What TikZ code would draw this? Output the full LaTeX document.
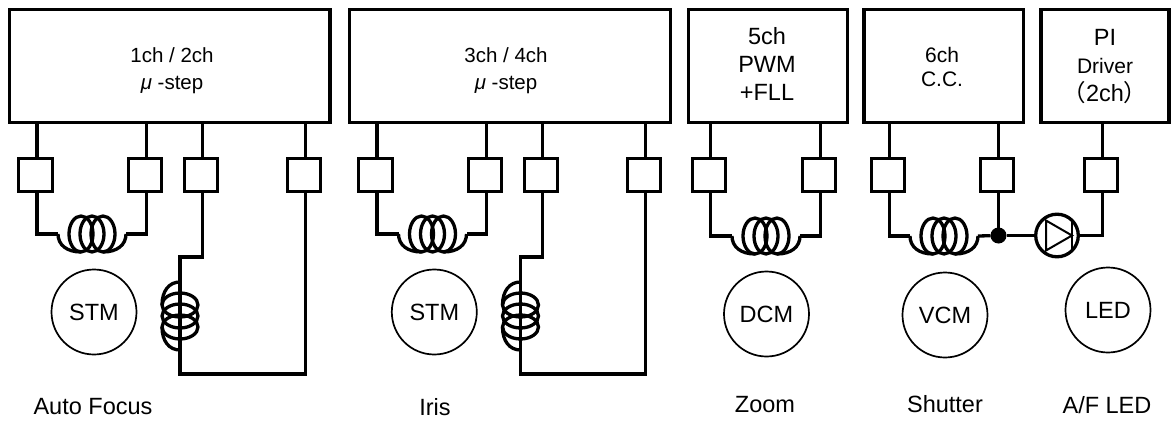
\documentclass[tikz,border=0pt]{standalone}
\usepackage{fontspec}
\setmainfont{Liberation Sans}
\newfontfamily\cjkfont{Noto Sans CJK JP}
\usetikzlibrary{shapes,fit}

\newcommand{\bigsize}{\fontsize{23.5}{28}\selectfont}
\newcommand{\midsize}{\fontsize{20.5}{27}\selectfont}
\newcommand{\ccsize}{\fontsize{21}{24}\selectfont}

\begin{document}
\begin{tikzpicture}[x=1pt,y=-1pt]
\tikzstyle{every path}=[line width=3.3pt]
\tikzstyle{every node}=[inner sep=0pt,outer sep=0pt]

\edef\sizepad{33.5pt}
\tikzstyle{drvbox}=[draw,minimum height=113.4pt]
\tikzstyle{drvtext}=[align=center,font=\midsize]
\tikzstyle{padbox}=[draw,minimum size=\sizepad]
\tikzstyle{motor}=[draw,circle,line width=1.7pt,minimum size=85pt,font=\bigsize]
\tikzstyle{caption}=[font=\bigsize]
\tikzstyle{thinline}=[line width=2pt]

\tikzset{coil/.pic={
    \coordinate (-a) at (-34,0);
    \coordinate (-b) at (34,0);
    \foreach \cx in {-11,0,11}
        \draw (\cx,0) ellipse [x radius=12,y radius=18];
    \draw (-a) .. controls (-34,11) and (-25,18) .. (-11,18);
    \draw (-b) .. controls (34,11) and (25,18) .. (11,18);
}}

\useasboundingbox (0,0) rectangle (1171,423);

%% Draw driver blocks
\node [drvbox,minimum width=320.7pt] (afbox) at (169.7,66) {};
\node [drvbox,minimum width=320.7pt] (irbox) at (510,66) {};
\node [drvbox,minimum width=159pt] (zmbox) at (767.8,66) {};
\node [drvbox,minimum width=159.3pt] (shbox) at (943.7,66) {};
\node [drvbox,minimum width=128pt] (pibox) at (1105,66) {};

\node [drvtext] (aftext) at (172,70.5) {1ch / 2ch\\\textit{μ} -step};
\node [drvtext] (irtext) at (506,70.5) {3ch / 4ch\\\textit{μ} -step};
\node [drvtext,font=\bigsize] (zmtext) at (767,63.5) {5ch\\PWM\\+FLL};
\node [drvtext,font=\ccsize] (shtext) at (942,67) {6ch\\C.C.};
\node [drvtext,font=\bigsize] (pitext) at (1105,66.5)
    {PI\\{\ccsize Driver}\\{\cjkfont （}2ch{\cjkfont ）}};

%% Draw output pads
\foreach \i/\x in {af1/35.5,af2/145,af3/201,af4/304,ir1/375.5,ir2/485,ir3/541,ir4/644,
                   zm1/709,zm2/819,sh1/888,sh2/997,pi1/1101}
    \node [padbox] (\i) at (\x,175) {};

%% Link blocks with pads
\foreach \i/\b in {af1/afbox,af2/afbox,af3/afbox,af4/afbox,ir1/irbox,ir2/irbox,ir3/irbox,ir4/irbox,
                   zm1/zmbox,zm2/zmbox,sh1/shbox,sh2/shbox,pi1/pibox}
    \draw ([xshift=1.5pt]\i.north) -- ([xshift=1.5pt]\i.north |- \b.south);

%% Draw coils
\pic (afh) at (92,234) {coil};
\pic (irh) at (432.5,234) {coil};
\pic (zmh) at (766,236) {coil};
\pic (shh) at (944,236) {coil};
\pic [rotate=-90] (afv) at (180,316) {coil};
\pic [rotate=-90] (irv) at (520.5,316) {coil};

%% Wire up the horizontal coils
\foreach \h/\l/\r in {afh/af1/af2,irh/ir1/ir2,zmh/zm1/zm2}
{
    \draw ([xshift=1.5pt]\l.south) |- (\h-a);
    \draw ([xshift=1.5pt]\r.south) |- (\h-b);
}
\draw ([xshift=1.5pt]sh1.south) |- (shh-a);

%% Wire up the vertical coils
\foreach \v/\t/\u/\n in {afv/af3/af4/afk,irv/ir3/ir4/irk}
{
    \coordinate (\n) at (\v-b |- 0,257);
    \coordinate (\n b) at (\v-a |- 0,374);
    \draw ([xshift=1.5pt]\t.south) |- (\n) -- (\v-b);
    \draw (\v-a) -- (\n b) -| ([xshift=1.5pt]\u.south);
}

%% Draw diode branch
\node [draw,circle,minimum size=42.6pt] (diode) at (1057,235.5) {};
\node [fill,circle,minimum size=16pt] (dot) at (998.5,235.5) {};
\draw (shh-b) -- (dot);
\draw ([xshift=1.5pt]sh2.south) -- (dot);
\draw (dot) -- (diode);
\draw (diode.east) -| ([xshift=1.5pt]pi1.south);
\draw [thinline] ([shift={(-11,-15)}]diode.center) -- ([shift={(15,0)}]diode.center)
    -- ([shift={(-11,15)}]diode.center) -- cycle;
\draw [thinline] ([shift={(15,-15)}]diode.center) -- ([shift={(15,15)}]diode.center);

%% Draw motors
\node [motor] (stma) at (94,312) {STM};
\node [motor] (stmb) at (434.3,312) {STM};
\node [motor] (dcm) at (766.5,314) {DCM};
\node [motor] (vcm) at (945,315) {VCM};
\node [motor] (led) at (1108,310) {LED};

%% Captions
\node [caption] (aflabel) at (93,407) {Auto Focus};
\node [caption] (irlabel) at (435,407) {Iris};
\node [caption] (zmlabel) at (765,405) {Zoom};
\node [caption] (shlabel) at (945,404) {Shutter};
\node [caption] (pilabel) at (1107,405) {A/F LED};

\end{tikzpicture}
\end{document}
